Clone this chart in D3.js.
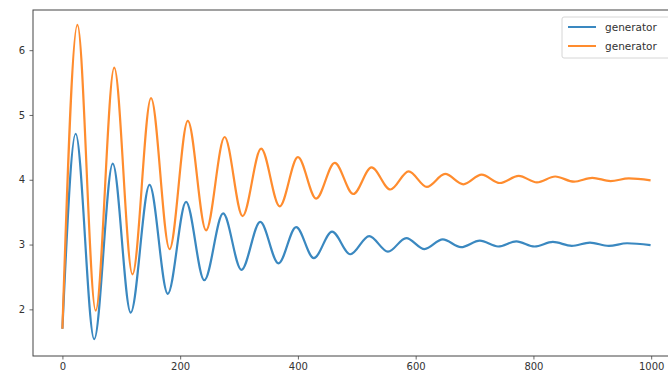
<!DOCTYPE html>
<html>
<head>
<meta charset="utf-8">
<script src="https://cdn.jsdelivr.net/npm/d3@7"></script>
<style>
  html, body { margin: 0; padding: 0; background: #fff; }
  svg { display: block; }
</style>
</head>
<body>
<div id="chart"></div>
<script>
'use strict';

// extrema (step, value)
const blueX = [0, 22.5, 54, 85.5, 116, 148, 179, 210, 241, 273, 304, 336, 367, 397, 427, 458, 489,
  521, 553, 584, 615, 646, 677, 709, 740, 771, 802, 833, 865, 896, 928, 959, 999];
const blueY = [1.70, 4.71, 1.54, 4.25, 1.95, 3.92, 2.24, 3.66, 2.45, 3.48, 2.61, 3.35, 2.71, 3.27, 2.79, 3.20, 2.85,
  3.13, 2.89, 3.10, 2.93, 3.08, 2.96, 3.06, 2.97, 3.05, 2.97, 3.04, 2.98, 3.03, 2.98, 3.02, 2.99];

const orangeX = [0, 25.5, 56.5, 88, 119, 150.5, 182, 213, 244, 275.5, 306, 337.5, 369, 400, 431, 462.5, 494,
  525, 557, 588, 619, 650, 681, 712, 743, 775, 806, 837, 869, 900, 931, 962, 999];
const orangeY = [1.70, 6.39, 1.98, 5.73, 2.54, 5.26, 2.93, 4.91, 3.22, 4.66, 3.44, 4.48, 3.59, 4.35, 3.71, 4.26, 3.78,
  4.19, 3.85, 4.13, 3.89, 4.09, 3.93, 4.08, 3.95, 4.06, 3.96, 4.05, 3.97, 4.03, 3.98, 4.02, 3.99];

const seriesNames = ['generator', 'generator'];
const seriesColors = ['#3a88c0', '#ff8c2e'];
const xTicks = [0, 200, 400, 600, 800, 1000];
const yTicks = [2, 3, 4, 5, 6];

const width = 668;
const height = 376;
const margin = { top: 10, right: -12, bottom: 20, left: 33 };
const font = '"DejaVu Sans", Arial, sans-serif';

const svg = d3.select('#chart').append('svg')
  .attr('width', width)
  .attr('height', height);

const x = d3.scaleLinear()
  .domain([-49.95, 1048.95])
  .range([margin.left, width - margin.right]);

const y = d3.scaleLinear()
  .domain([1.28, 6.62])
  .range([height - margin.bottom, margin.top]);

const series = [
  d3.zip(blueX, blueY),
  d3.zip(orangeX, orangeY)
];

const line = d3.line()
  .x(d => x(d[0]))
  .y(d => y(d[1]))
  .curve(d3.curveMonotoneX);

series.forEach(function(data, i) {
  svg.append('path')
    .datum(data)
    .attr('fill', 'none')
    .attr('stroke', seriesColors[i])
    .attr('stroke-width', 2.2)
    .attr('stroke-linejoin', 'round')
    .attr('d', line);
});

// axes
const xAxis = svg.append('g')
  .attr('transform', 'translate(0,' + (height - margin.bottom) + ')')
  .call(d3.axisBottom(x).tickValues(xTicks).tickFormat(d3.format('d')).tickSize(3.5).tickPadding(3.5));

const yAxis = svg.append('g')
  .attr('transform', 'translate(' + margin.left + ',0)')
  .call(d3.axisLeft(y).tickValues(yTicks).tickFormat(d3.format('d')).tickSize(3.5).tickPadding(4.5));

[xAxis, yAxis].forEach(function(g) {
  g.select('.domain').remove();
  g.selectAll('line').attr('stroke', '#444').attr('stroke-width', 0.8);
  g.selectAll('text')
    .attr('fill', '#333')
    .attr('style', 'font-family:' + font + '; font-size:10px');
});

// spines
svg.append('rect')
  .attr('x', margin.left)
  .attr('y', margin.top)
  .attr('width', x.range()[1] - margin.left)
  .attr('height', height - margin.bottom - margin.top)
  .attr('fill', 'none')
  .attr('stroke', '#444')
  .attr('stroke-width', 1);

// legend
const legend = svg.append('g')
  .attr('transform', 'translate(' + 562 + ',' + 17 + ')');

legend.append('rect')
  .attr('width', 112)
  .attr('height', 41)
  .attr('rx', 2)
  .attr('fill', '#fff')
  .attr('fill-opacity', 0.8)
  .attr('stroke', '#d6d6d6')
  .attr('stroke-width', 1);

seriesNames.forEach(function(name, i) {
  const row = legend.append('g')
    .attr('transform', 'translate(0,' + (10 + i * 19) + ')');
  row.append('line')
    .attr('x1', 6)
    .attr('x2', 34)
    .attr('stroke', seriesColors[i])
    .attr('stroke-width', 2);
  row.append('text')
    .attr('x', 43)
    .attr('dy', '0.35em')
    .attr('fill', '#333')
    .attr('style', 'font-family:' + font + '; font-size:10.5px')
    .text(name);
});
</script>
</body>
</html>
